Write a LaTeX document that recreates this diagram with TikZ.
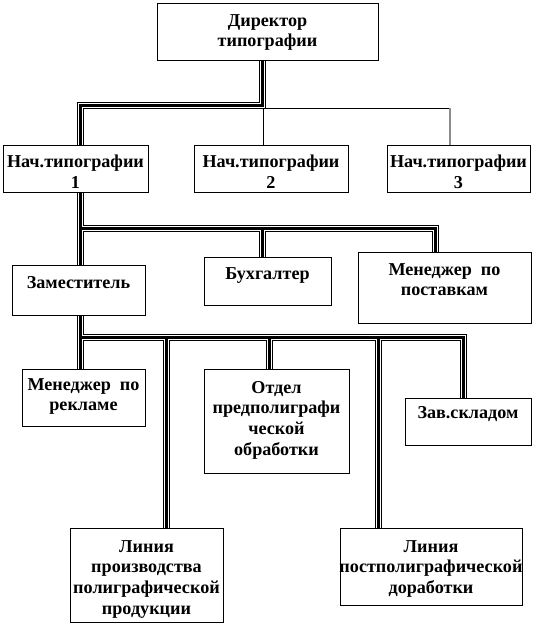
\documentclass[tikz,border=0pt]{standalone}
\usepackage{fontspec}
\setmainfont{Liberation Serif}
\usetikzlibrary{fit,backgrounds}
\begin{document}
\begin{tikzpicture}[x=0.75pt,y=-0.75pt,
  box/.style={draw=black, line width=0.75pt, fill=white, inner sep=0pt},
  txt/.style={anchor=north, inner sep=0pt, align=center,
    font=\fontsize{13.6pt}{15.5pt}\selectfont\bfseries},
  thinline/.style={draw=black, line width=0.75pt},
  greyline/.style={draw=black!45, line width=1.3pt}]
\useasboundingbox (0,0) rectangle (534,628);

% boxes
\node[box, fit={(157,3) (378,60)}] (dir) {};
\node[box, fit={(3,145) (148,192)}] (n1) {};
\node[box, fit={(194,145) (348,192)}] (n2) {};
\node[box, fit={(387,145) (530,192)}] (n3) {};
\node[box, fit={(12,265) (145,315)}] (zam) {};
\node[box, fit={(204,257) (331,305)}] (buh) {};
\node[box, fit={(358,252) (531,323)}] (mpost) {};
\node[box, fit={(22,369) (145,426)}] (mrek) {};
\node[box, fit={(204,369) (349,473)}] (otd) {};
\node[box, fit={(405,398) (531,445)}] (zav) {};
\node[box, fit={(70,528) (223,622)}] (lprod) {};
\node[box, fit={(340,528) (522,605)}] (lpost) {};

% texts
\node[txt] (dirT) at (dir.north |- 0,14) {Директор\\типографии};
\node[txt] (n1T) at (n1.north |- 0,155) {Нач.типографии\\1};
\node[txt] (n2T) at (n2.north |- 0,155) {Нач.типографии\\2};
\node[txt] (n3T) at (n3.north |- 0,155) {Нач.типографии\\3};
\node[txt] (zamT) at (zam.north |- 0,276) {Заместитель};
\node[txt] (buhT) at (buh.north |- 0,267) {Бухгалтер};
\node[txt] (mpostT) at (mpost.north |- 0,263) {Менеджер\ \ по\\поставкам};
\node[txt] (mrekT) at (mrek.north |- 0,378) {Менеджер\ \ по\\рекламе};
\node[txt] (otdT) at (otd.north |- 0,381) {Отдел\\предполиграфи\\ческой\\обработки};
\node[txt] (zavT) at (zav.north |- 0,406) {Зав.складом};
\node[txt] (lprodT) at (lprod.north |- 0,540) {Линия\\производства\\полиграфической\\продукции};
\node[txt] (lpostT) at (lpost.north |- 0,540) {Линия\\постполиграфической\\доработки};

% junction coordinates
\coordinate (c0) at (262,105);
\coordinate (c1) at (80,105);
\coordinate (t0) at (263,108);
\coordinate (t1) at (450,108);
\coordinate (c2) at (80,228);
\coordinate (c3) at (435,228);
\coordinate (c4) at (262,228);
\coordinate (c5) at (80,337);
\coordinate (c6) at (463,337);
\coordinate (d1) at (166,337);
\coordinate (d2) at (269,337);
\coordinate (d3) at (378,337);

\begin{pgfonlayer}{background}
  % thin connectors
  \draw[thinline] (t0) -- (t1);
  \draw[thinline] (t0) -- (n2.north -| t0);
  \draw[greyline] (t1) -- (n3.north -| t1);
  % triple connectors
  \foreach \w/\c in {5.25pt/black,3.75pt/white,2.25pt/black}{
    \draw[line width=\w, draw=\c]
      (dir.south -| c0) -- (c0) -- (c1) -- (n1.north -| c1)
      (n1.south -| c1) -- (zam.north -| c1)
      (c2) -- (c3) -- (mpost.north -| c3)
      (c4) -- (buh.north -| c4)
      (zam.south -| c1) -- (mrek.north -| c1)
      (c5) -- (c6) -- (zav.north -| c6)
      (d1) -- (lprod.north -| d1)
      (d2) -- (otd.north -| d2)
      (d3) -- (lpost.north -| d3);
  }
\end{pgfonlayer}
\end{tikzpicture}
\end{document}
